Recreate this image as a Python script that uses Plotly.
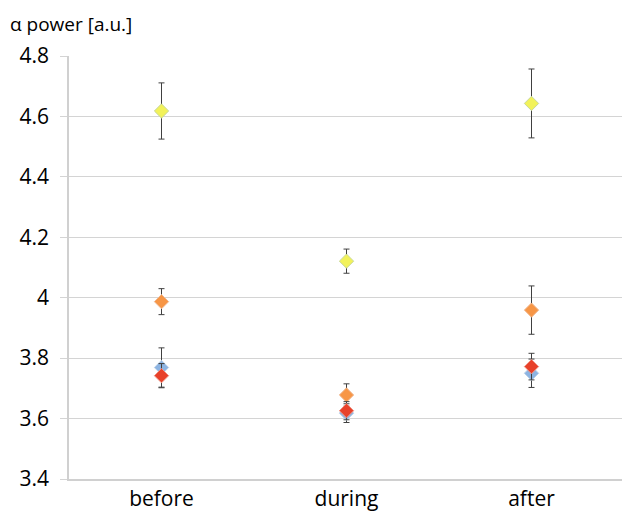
import plotly.graph_objects as go

categories = ["before", "during", "after"]
yellow = [4.618, 4.121, 4.643]
yellow_err = [0.093, 0.040, 0.114]
orange = [3.987, 3.678, 3.959]
orange_err = [0.043, 0.037, 0.080]
blue = [3.769, 3.618, 3.750]
blue_err = [0.065, 0.031, 0.047]
red = [3.742, 3.626, 3.772]
red_err = [0.040, 0.030, 0.044]

series = [
    ("yellow", yellow, yellow_err, "#f2f25a", "#c8d89a"),
    ("orange", orange, orange_err, "#f79646", "#f0b890"),
    ("blue", blue, blue_err, "#8db4e2", "#b8cfe8"),
    ("red", red, red_err, "#e8412a", "#f09080"),
]

fig = go.Figure()
for name, vals, errs, col, lcol in series:
    fig.add_trace(go.Scatter(
        x=categories, y=vals, mode="markers", name=name,
        marker=dict(symbol="diamond", size=11, color=col,
                    line=dict(color=lcol, width=1)),
        error_y=dict(type="data", array=errs, visible=True,
                     color="#404040", thickness=1, width=3),
    ))

fig.update_layout(
    width=630, height=518,
    margin=dict(l=59, r=14, t=48, b=47),
    paper_bgcolor="white", plot_bgcolor="white",
    showlegend=False,
    font=dict(family="Open Sans, Liberation Sans, sans-serif", color="#000000"),
    xaxis=dict(type="category", range=[-0.5, 2.5], showgrid=False,
               showline=True, linecolor="#d0d0d0", linewidth=1.5,
               ticks="", tickfont=dict(size=21)),
    yaxis=dict(range=[3.4, 4.8],
               tickvals=[3.4, 3.6, 3.8, 4.0, 4.2, 4.4, 4.6, 4.8],
               ticktext=["3.4", "3.6", "3.8", "4", "4.2", "4.4", "4.6", "4.8"],
               showgrid=True, gridcolor="#d4d4d4", gridwidth=1,
               showline=True, linecolor="#d0d0d0", linewidth=1.5,
               ticks="outside", ticklen=7, tickcolor="#d4d4d4",
               ticklabelstandoff=7,
               tickfont=dict(size=21), zeroline=False),
    annotations=[dict(text="α power [a.u.]", x=0, y=1, xref="paper", yref="paper",
                      xanchor="left", yanchor="top", xshift=-61, yshift=47,
                      showarrow=False, font=dict(size=19))],
)

fig.write_html("out.html")
